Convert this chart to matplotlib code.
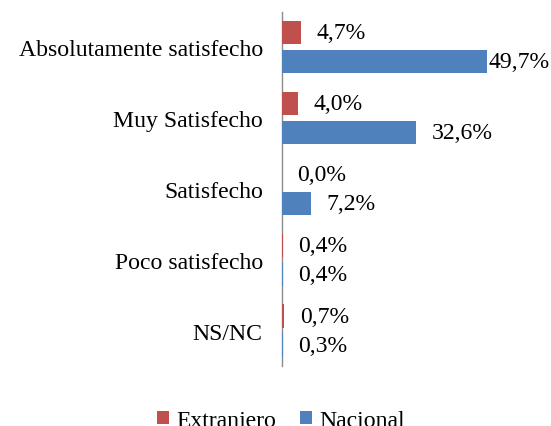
import numpy as np
import matplotlib
matplotlib.use('Agg')
import matplotlib.pyplot as plt

''' Data read from the reference chart '''
categories = ['Absolutamente satisfecho', 'Muy Satisfecho', 'Satisfecho',
              'Poco satisfecho', 'NS/NC']
extranjero = [4.7, 4.0, 0.0, 0.4, 0.7]
nacional = [49.7, 32.6, 7.2, 0.4, 0.3]

RED = '#C0504D'
BLUE = '#4F81BD'

plt.rcParams['font.family'] = ['Liberation Serif', 'DejaVu Serif']
plt.rcParams['font.size'] = 17.1

fig = plt.figure(figsize=(5.51, 4.27), dpi=100)
ax = fig.add_axes([0.511, 0.1405, 0.45, 0.8295])

y = np.arange(len(categories))
h = 0.33
off = 0.205

bars_e = ax.barh(y - off, extranjero, height=h, color=RED, label='Extranjero')
bars_n = ax.barh(y + off, nacional, height=h, color=BLUE, label='Nacional')

ax.set_xlim(0, 60)
ax.set_ylim(len(categories) - 0.5, -0.5)

''' value labels, comma decimal like the original '''
vmax = max(nacional)
for vals, ys in [(extranjero, y - off), (nacional, y + off)]:
    for v, yy in zip(vals, ys):
        pad = 1 if v == vmax else 11
        ax.annotate(('%.1f%%' % v).replace('.', ','), xy=(v, yy),
                    xytext=(pad, 0), textcoords='offset points',
                    ha='left', va='center')

ax.set_yticks(y)
ax.set_yticklabels(categories)
ax.tick_params(axis='y', length=0, pad=13.5)
ax.set_xticks([])
for side in ['top', 'right', 'bottom']:
    ax.spines[side].set_visible(False)
ax.spines['left'].set_color('#8c8c8c')
ax.spines['left'].set_linewidth(1.0)
ax.spines['left'].set_zorder(0.5)

fig.legend(handles=[bars_e, bars_n], loc='lower center',
           bbox_to_anchor=(0.51, -0.062), ncol=2, frameon=False,
           handlelength=0.5, handleheight=0.5, handletextpad=0.3,
           columnspacing=1.0)

fig.savefig('out.png', dpi=100)
